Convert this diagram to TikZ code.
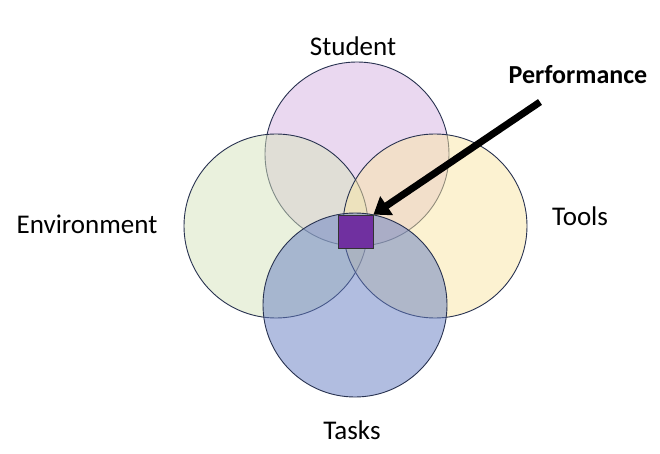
\documentclass[tikz,border=0pt]{standalone}
\usepackage{fontspec}
\setmainfont{Carlito}
\usetikzlibrary{arrows.meta}
\begin{document}
\begin{tikzpicture}[x=1pt,y=-1pt,
  circ/.style={draw={rgb,255:red,40;green,50;blue,80},line width=0.9pt,fill opacity=0.5},
  lbl/.style={font=\fontsize{27}{32}\selectfont}]
\useasboundingbox (0,0) rectangle (660,454);
\fill[white] (0,0) rectangle (660,454);
\filldraw[circ,fill={rgb,255:red,214;green,178;blue,226}] (357,154) circle (92) node (stu) {};
\filldraw[circ,fill={rgb,255:red,215;green,228;blue,189}] (276,226) circle (92) node (env) {};
\filldraw[circ,fill={rgb,255:red,250;green,230;blue,165}] (435,226) circle (92) node (too) {};
\filldraw[circ,fill={rgb,255:red,100;green,125;blue,195}] (355,305) circle (92) node (tas) {};
\node[draw=black!80,line width=0.8pt,fill={rgb,255:red,112;green,48;blue,160},minimum width=35pt,minimum height=33pt,inner sep=0] (perf) at (355.5,231.5) {};
\node[lbl] (tstu) at (353,46) {Student};
\node[lbl] (tenv) at (87,224) {Environment};
\node[lbl] (ttoo) at (580,216) {Tools};
\node[lbl] (ttas) at (352,430) {Tasks};
\node[font=\fontsize{26}{30}\selectfont\bfseries] (tperf) at (578,75) {Performance};
\coordinate (as) at (540,102);
\draw[line width=7pt,-{Triangle[length=16pt,width=22pt]}] (as) -- (perf.north east);
\end{tikzpicture}
\end{document}
